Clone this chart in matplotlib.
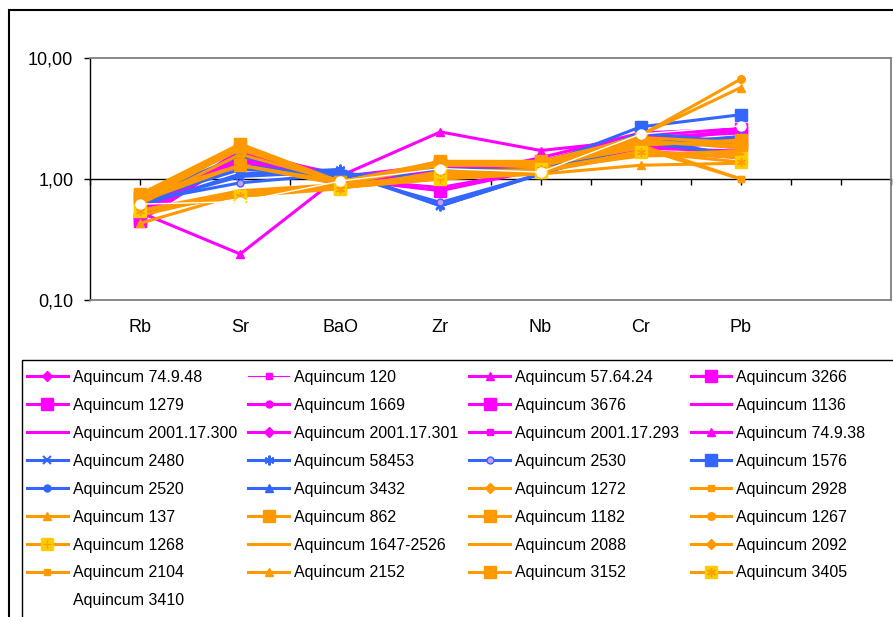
import numpy as np
import matplotlib
matplotlib.use("Agg")
import matplotlib.pyplot as plt
from matplotlib.patches import Rectangle
from matplotlib.legend_handler import HandlerTuple

plt.rcParams['font.family'] = ['Liberation Sans', 'DejaVu Sans']

W, H = 893, 617

elements = ["Rb", "Sr", "BaO", "Zr", "Nb", "Cr", "Pb"]
ytick_vals = [0.1, 1.0, 10.0]
ytick_labels = ["0,10", "1,00", "10,00"]

# normalised values, one list per sample: Rb, Sr, BaO, Zr, Nb, Cr, Pb
a_74_9_48 = [0.55, 1.60, 1.05, 1.15, 1.30, 2.00, 2.20]
a_120 = [0.60, 1.50, 1.00, 1.20, 1.25, 1.90, 1.60]
a_57_64_24 = [0.53, 0.24, 1.06, 2.45, 1.72, 2.10, 2.50]
a_3266 = [0.47, 1.70, 1.00, 0.80, 1.20, 2.00, 2.50]
a_1279 = [0.45, 1.55, 0.95, 1.10, 1.30, 1.80, 2.00]
a_1669 = [0.50, 1.45, 1.00, 1.25, 1.35, 2.20, 2.40]
a_3676 = [0.48, 1.75, 1.05, 1.30, 1.40, 2.30, 2.60]
a_1136 = [0.58, 1.40, 0.95, 1.00, 1.15, 1.70, 1.50]
a_2001_17_300 = [0.62, 1.30, 1.00, 0.85, 1.20, 1.80, 1.70]
a_2001_17_301 = [0.52, 1.65, 1.05, 1.20, 1.30, 1.90, 2.10]
a_2001_17_293 = [0.50, 1.50, 1.00, 1.15, 1.25, 2.00, 1.90]
a_74_9_38 = [0.46, 1.60, 1.10, 1.00, 1.50, 2.40, 2.60]

a_2480 = [0.62, 1.05, 1.15, 0.60, 1.10, 2.00, 1.60]
a_58453 = [0.60, 1.10, 1.20, 0.60, 1.10, 2.20, 1.80]
a_2530 = [0.65, 0.93, 1.10, 0.64, 1.10, 1.90, 2.25]
a_1576 = [0.70, 1.55, 1.00, 1.30, 1.30, 2.70, 3.40]
a_2520 = [0.63, 1.30, 1.05, 1.20, 1.20, 2.40, 2.00]
a_3432 = [0.66, 1.20, 1.10, 1.05, 1.15, 2.20, 1.52]

a_1272 = [0.65, 1.80, 0.95, 1.35, 1.30, 2.00, 1.90]
a_2928 = [0.72, 1.90, 0.90, 1.40, 1.35, 1.90, 1.00]
a_137 = [0.43, 0.75, 0.85, 1.00, 1.10, 1.30, 1.35]
a_862 = [0.75, 1.95, 0.95, 1.40, 1.40, 2.20, 2.00]
a_1182 = [0.70, 1.85, 0.90, 1.35, 1.30, 2.10, 1.80]
a_1267 = [0.68, 1.90, 0.90, 1.40, 1.30, 2.30, 6.70]
a_1268 = [0.55, 0.72, 0.85, 1.00, 1.15, 1.70, 1.50]
a_1647_2526 = [0.55, 0.80, 0.90, 1.05, 1.15, 1.60, 1.70]
a_2088 = [0.50, 0.78, 0.88, 1.10, 1.20, 1.55, 1.60]
a_2092 = [0.70, 1.75, 0.95, 1.30, 1.35, 2.00, 1.90]
a_2104 = [0.65, 1.30, 0.90, 1.30, 1.30, 1.80, 1.00]
a_2152 = [0.62, 1.60, 0.95, 1.35, 1.25, 2.30, 5.70]
a_3152 = [0.72, 1.30, 0.95, 1.35, 1.30, 1.90, 2.10]
a_3405 = [0.54, 0.72, 0.83, 1.15, 1.20, 1.67, 1.38]
a_3410 = [0.62, 0.65, 0.96, 1.22, 1.14, 2.35, 2.75]

MAG, BLUE, ORA, YEL = '#FF00FF', '#3366FF', '#FF9900', '#FFCC00'

# (label, values, color, marker, markersize, linewidth, extra)
series = [
    ("Aquincum 74.9.48", a_74_9_48, MAG, 'D', 5, 2.2, None),
    ("Aquincum 120", a_120, MAG, 's', 5, 0.8, None),
    ("Aquincum 57.64.24", a_57_64_24, MAG, '^', 6, 2.2, None),
    ("Aquincum 3266", a_3266, MAG, 's', 8.5, 2.2, None),
    ("Aquincum 1279", a_1279, MAG, 's', 8.5, 2.2, None),
    ("Aquincum 1669", a_1669, MAG, 'o', 5, 2.2, None),
    ("Aquincum 3676", a_3676, MAG, 's', 8.5, 2.2, None),
    ("Aquincum 1136", a_1136, MAG, '_', 5, 2.2, None),
    ("Aquincum 2001.17.300", a_2001_17_300, MAG, '_', 5, 2.2, None),
    ("Aquincum 2001.17.301", a_2001_17_301, MAG, 'D', 5, 2.2, None),
    ("Aquincum 2001.17.293", a_2001_17_293, MAG, 's', 5, 2.2, None),
    ("Aquincum 74.9.38", a_74_9_38, MAG, '^', 6, 2.2, None),
    ("Aquincum 2480", a_2480, BLUE, 'x', 6, 2.2, None),
    ("Aquincum 58453", a_58453, BLUE, (6, 2, 0), 7, 2.2, None),
    ("Aquincum 2530", a_2530, BLUE, 'o', 5, 2.2, 'purple'),
    ("Aquincum 1576", a_1576, BLUE, 's', 8.5, 2.2, None),
    ("Aquincum 2520", a_2520, BLUE, 'o', 5, 2.2, None),
    ("Aquincum 3432", a_3432, BLUE, '^', 6, 2.2, None),
    ("Aquincum 1272", a_1272, ORA, 'D', 5, 2.2, None),
    ("Aquincum 2928", a_2928, ORA, 's', 5, 2.2, None),
    ("Aquincum 137", a_137, ORA, '^', 6, 2.2, None),
    ("Aquincum 862", a_862, ORA, 's', 8.5, 2.2, None),
    ("Aquincum 1182", a_1182, ORA, 's', 8.5, 2.2, None),
    ("Aquincum 1267", a_1267, ORA, 'o', 5.5, 2.2, None),
    ("Aquincum 1268", a_1268, ORA, 's', 8.5, 2.2, '+'),
    ("Aquincum 1647-2526", a_1647_2526, ORA, '_', 5, 2.2, None),
    ("Aquincum 2088", a_2088, ORA, '_', 5, 2.2, None),
    ("Aquincum 2092", a_2092, ORA, 'D', 5, 2.2, None),
    ("Aquincum 2104", a_2104, ORA, 's', 5, 2.2, None),
    ("Aquincum 2152", a_2152, ORA, '^', 6, 2.2, None),
    ("Aquincum 3152", a_3152, ORA, 's', 8.5, 2.2, None),
    ("Aquincum 3405", a_3405, ORA, 's', 8.5, 2.2, 'star'),
    ("Aquincum 3410", a_3410, 'white', 'o', 6.5, 2.2, None),
]

fig = plt.figure(figsize=(W / 100, H / 100), dpi=100)

# plot area in pixels
left, right, top, bottom = 90, 891, 58, 300
pos = [left / W, 1 - bottom / H, (right - left) / W, (bottom - top) / H]

# helper axes only for the category axis line crossing at 1,00
axl = fig.add_axes([pos[0], pos[1] + pos[3] / 2, pos[2], pos[3] / 2])
axl.set_zorder(0)
axl.set_xlim(-0.5, 7.5)
axl.set_yticks([])
for s in ['top', 'left', 'right']:
    axl.spines[s].set_visible(False)
axl.spines['bottom'].set_linewidth(1.0)
axl.set_xticks(np.arange(-0.5, 7.6, 0.5))
axl.tick_params(axis='x', direction='out', length=4, width=1, labelbottom=False)
axl.patch.set_alpha(0)

ax = fig.add_axes(pos)
ax.set_zorder(1)
ax.patch.set_alpha(0)
x = np.arange(len(elements))

handles = []
for label, vals, color, marker, ms, lw, extra in series:
    if extra in ('+', 'star'):
        ln, = ax.plot(x, vals, color=color, lw=lw, marker='s', ms=ms,
                      mfc=YEL, mec=YEL, label=label)
        inner = '+' if extra == '+' else (6, 2, 0)
        ov, = ax.plot(x, vals, ls='none', marker=inner, ms=ms * 0.75,
                      mec=color, mew=1.0)
        handles.append((ln, ov))
    elif extra == 'purple':
        ln, = ax.plot(x, vals, color=color, lw=lw, marker=marker, ms=ms,
                      mfc='#CC99FF', mec=color, mew=1.0, label=label)
        handles.append(ln)
    elif color == 'white':
        ln, = ax.plot(x, vals, color=color, lw=1.0, marker=marker, ms=ms,
                      mfc='white', mec='white', label=label)
        handles.append(ln)
    else:
        mew = 1.5 if marker in ('x', '_') or isinstance(marker, tuple) else 1.0
        ln, = ax.plot(x, vals, color=color, lw=lw, marker=marker, ms=ms,
                      mfc=color, mec=color, mew=mew, label=label)
        handles.append(ln)

ax.set_yscale('log')
ax.set_ylim(0.1, 10)
ax.set_xlim(-0.5, 7.5)
ax.set_yticks(ytick_vals)
ax.set_yticklabels(ytick_labels)
ax.minorticks_off()
ax.set_xticks(x)
ax.set_xticklabels(elements)
ax.tick_params(axis='x', length=0, pad=14, labelsize=13)
ax.tick_params(axis='y', direction='out', length=4, width=1, pad=8, labelsize=13)
for s in ['top', 'right', 'bottom']:
    ax.spines[s].set_color('#808080')
    ax.spines[s].set_linewidth(1.3)
ax.spines['left'].set_color('black')
ax.spines['left'].set_linewidth(1.0)

# chart outer border and legend border (both run off the picture)
fig.patches.append(Rectangle((9 / W, -0.2), 1.2, 1.2 - 10 / H, transform=fig.transFigure,
                             fill=False, edgecolor='black', lw=1.5))
fig.patches.append(Rectangle((22 / W, -0.2), 1.2, 0.2 + 1 - 360 / H, transform=fig.transFigure,
                             fill=False, edgecolor='black', lw=1.0))

labels = [s[0] for s in series]
n = len(labels)
order = [i for c in range(4) for i in range(c, n, 4)]
fig.legend([handles[i] for i in order], [labels[i] for i in order],
           ncol=4, loc='upper left', bbox_to_anchor=(17 / W, 1 - 360 / H),
           frameon=False, borderaxespad=0, borderpad=0.62, fontsize=11.5,
           handlelength=2.56, handletextpad=0.31, columnspacing=0.7,
           labelspacing=0.81, handler_map={tuple: HandlerTuple(ndivide=1, pad=0)})

fig.savefig("out.png", dpi=100)
